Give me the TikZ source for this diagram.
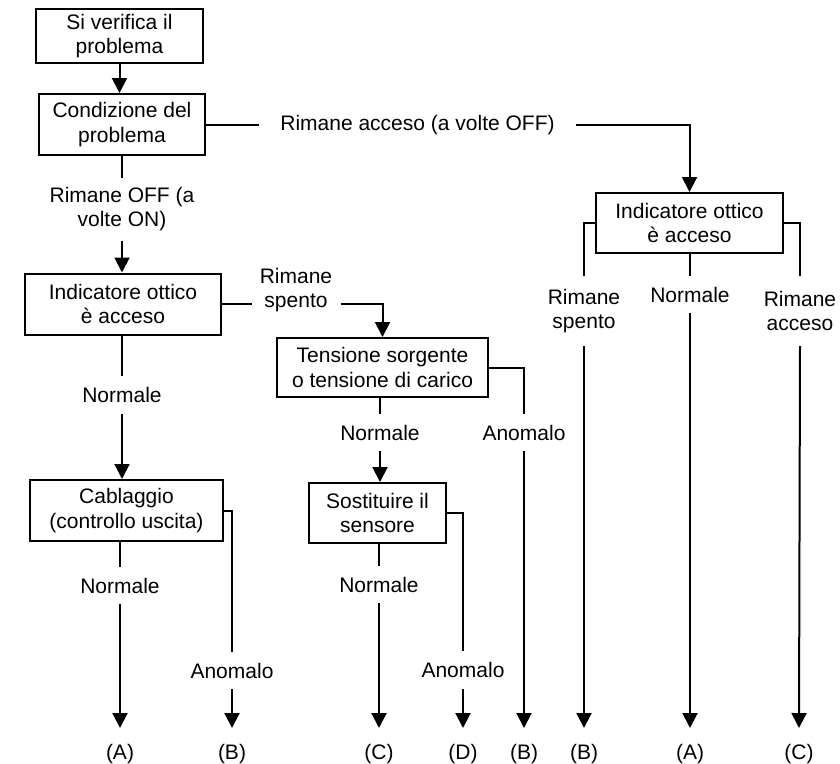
\documentclass[tikz,border=0pt]{standalone}
\usepackage{fontspec}
\setmainfont{Liberation Sans}
\usetikzlibrary{arrows.meta}
\begin{document}
\begin{tikzpicture}[x=1pt,y=-1pt,
  font=\fontsize{21}{24.5}\selectfont,
  line width=2pt,
  box/.style={draw, align=center, inner sep=0pt},
  lbl/.style={align=center, inner sep=0pt},
  term/.style={anchor=north, inner xsep=0pt, inner ysep=15pt},
  arr/.style={-{Triangle[width=15pt,length=15pt]}}]
\useasboundingbox (0,0) rectangle (840,763);
% boxes
\node[box, minimum width=167, minimum height=54] (b1) at (119.5,36) {Si verifica il\\problema};
\node[box, minimum width=166, minimum height=61] (b2) at (122,124.5) {Condizione del\\problema};
\node[box, minimum width=196, minimum height=61] (b3) at (123,304) {Indicatore ottico\\è acceso};
\node[box, minimum width=211, minimum height=59] (b4) at (382.5,367.5) {Tensione sorgente\\o tensione di carico};
\node[box, minimum width=137, minimum height=60] (b5) at (377.5,513) {Sostituire il\\sensore};
\node[box, minimum width=193, minimum height=61] (b6) at (126.5,510.5) {Cablaggio\\(controllo uscita)};
\node[box, minimum width=187, minimum height=60] (b7) at (689.5,223) {Indicatore ottico\\è acceso};
% terminals
\node[term] (tA1) at (120,728) {(A)};
\node[term] (tB1) at (232,728) {(B)};
\node[term] (tC1) at (379,728) {(C)};
\node[term] (tD)  at (463,728) {(D)};
\node[term] (tB2) at (524,728) {(B)};
\node[term] (tB3) at (584,728) {(B)};
\node[term] (tA2) at (690,728) {(A)};
\node[term] (tC2) at (799,728) {(C)};
% labels
\node[lbl, minimum height=61] (l1) at (122,209) {Rimane OFF (a\\volte ON)};
\node[lbl, minimum width=315] (l2) at (417.5,125) {Rimane acceso (a volte OFF)};
\node[lbl, minimum width=87] (l3) at (296,290) {Rimane\\spento};
\node[lbl, minimum height=36] (l4) at (122,395) {Normale};
\node[lbl, minimum height=35] (l5) at (380,432.5) {Normale};
\node[lbl, minimum height=35] (l6) at (524,432.5) {Anomalo};
\node[lbl, minimum height=35] (l7) at (379,584.5) {Normale};
\node[lbl, minimum height=36] (l8) at (463,670) {Anomalo};
\node[lbl, minimum height=35] (l9) at (120,585.5) {Normale};
\node[lbl, minimum height=35] (l10) at (232,670.5) {Anomalo};
\node[lbl, minimum height=68] (l11) at (584,311) {Rimane\\spento};
\node[lbl, minimum height=35] (l12) at (690,294.5) {Normale};
\node[lbl, minimum height=68] (l13) at (800,311) {Rimane\\acceso};
% connectors
\draw[arr] (b1.south) -- (b1.south |- b2.north);
\draw (b2.south -| l1) -- (l1.north);
\draw[arr] (l1.south) -- (l1.south |- b3.north);
\draw (b2.east) -- (b2.east -| l2.west);
\draw[arr] (b2.east -| l2.east) -| (b7.north);
\draw (b3.east) -- (b3.east -| l3.west);
\draw[arr] (b3.east -| l3.east) -| (b4.north);
\draw (b3.south -| l4) -- (l4.north);
\draw[arr] (l4.south) -- (l4.south |- b6.north);
\draw (b4.south -| l5) -- (l5.north);
\draw[arr] (l5.south) -- (l5.south |- b5.north);
\draw (b4.east) -| (l6.north);
\draw[arr] (l6.south) -- (tB2.north);
\draw (b5.south -| l7) -- (l7.north);
\draw[arr] (l7.south) -- (tC1.north);
\draw (b5.east) -| (l8.north);
\draw[arr] (l8.south) -- (tD.north);
\draw (b6.south -| l9) -- (l9.north);
\draw[arr] (l9.south) -- (tA1.north);
\draw (b6.east) -| (l10.north);
\draw[arr] (l10.south) -- (tB1.north);
\draw (b7.west) -| (l11.north);
\draw[arr] (l11.south) -- (tB3.north);
\draw (b7.south -| l12) -- (l12.north);
\draw[arr] (l12.south) -- (tA2.north);
\draw (b7.east) -| (l13.north);
\draw[arr] (l13.south) -- (tC2.north);
\end{tikzpicture}
\end{document}
